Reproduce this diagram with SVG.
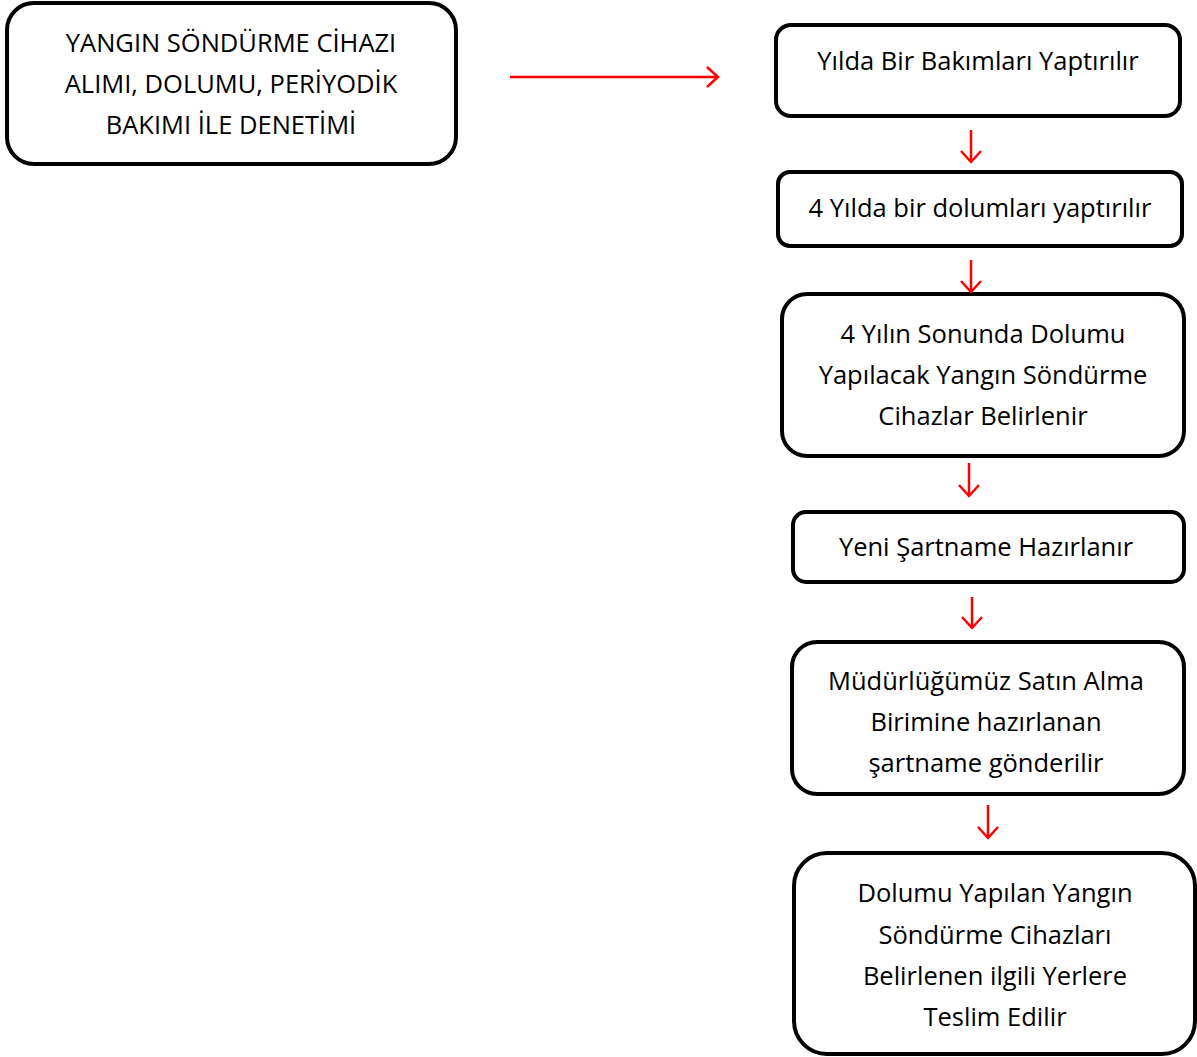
<svg xmlns="http://www.w3.org/2000/svg" width="1197" height="1057" viewBox="0 0 1197 1057">
<defs>
<style>
.box{fill:#fff;stroke:#000;stroke-width:4}
.t{font-family:"Open Sans","Noto Sans","DejaVu Sans",sans-serif;font-size:25.5px;fill:#000;text-anchor:middle}
.c{stroke:#ff0000;stroke-width:2.5;fill:none}
</style>
</defs>
<rect width="1197" height="1057" fill="#fff"/>
<g id="n1"><rect class="box" x="7" y="3" width="449" height="161" rx="27"/>
<text class="t" x="231" y="52">YANGIN SÖNDÜRME CİHAZI</text>
<text class="t" x="231" y="93">ALIMI, DOLUMU, PERİYODİK</text>
<text class="t" x="231" y="134">BAKIMI İLE DENETİMİ</text></g>
<g id="n2"><rect class="box" x="776" y="25" width="404" height="91" rx="15"/>
<text class="t" x="978" y="70">Yılda Bir Bakımları Yaptırılır</text></g>
<g id="n3"><rect class="box" x="778" y="172" width="404" height="74" rx="12"/>
<text class="t" x="980" y="217">4 Yılda bir dolumları yaptırılır</text></g>
<g id="n4"><rect class="box" x="782" y="294" width="402" height="162" rx="25"/>
<text class="t" x="983" y="343">4 Yılın Sonunda Dolumu</text>
<text class="t" x="983" y="384">Yapılacak Yangın Söndürme</text>
<text class="t" x="983" y="425">Cihazlar Belirlenir</text></g>
<g id="n5"><rect class="box" x="793" y="512" width="391" height="70" rx="13"/>
<text class="t" x="986" y="556">Yeni Şartname Hazırlanır</text></g>
<g id="n6"><rect class="box" x="792" y="642" width="392" height="152" rx="25"/>
<text class="t" x="986" y="690">Müdürlüğümüz Satın Alma</text>
<text class="t" x="986" y="731">Birimine hazırlanan</text>
<text class="t" x="986" y="772">şartname gönderilir</text></g>
<g id="n7"><rect class="box" x="794" y="853" width="401" height="201" rx="33"/>
<text class="t" x="995" y="902">Dolumu Yapılan Yangın</text>
<text class="t" x="995" y="944">Söndürme Cihazları</text>
<text class="t" x="995" y="985">Belirlenen ilgili Yerlere</text>
<text class="t" x="995" y="1026">Teslim Edilir</text></g>
<g id="connectors">
<path class="c" d="M510 77H718M707 67L718 77L707 87"/>
<path class="c" d="M971 130V162M961 151L971 162L981 151"/>
<path class="c" d="M971 260V292M961 281L971 292L981 281"/>
<path class="c" d="M969 463V496M959 485L969 496L979 485"/>
<path class="c" d="M972 597V628M962 617L972 628L982 617"/>
<path class="c" d="M988 805V838M978 827L988 838L998 827"/>
</g>
</svg>
